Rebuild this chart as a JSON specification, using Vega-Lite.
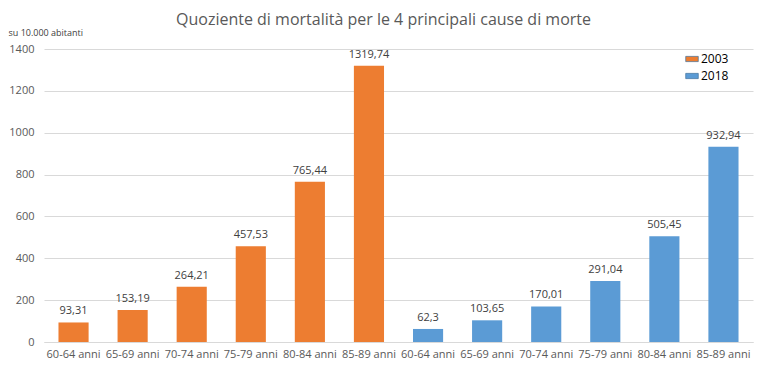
{
  "$schema": "https://vega.github.io/schema/vega-lite/v6.json",
  "width": 769,
  "height": 373,
  "autosize": {"type": "fit", "contains": "padding"},
  "padding": {"left": 8, "top": 12, "right": 16, "bottom": 14},
  "background": "white",
  "config": {
    "view": {"stroke": null},
    "font": "Open Sans",
    "locale": {"number": {"decimal": ",", "thousands": "", "grouping": [3], "currency": ["€", ""]}}
  },
  "title": {
    "text": "Quoziente di mortalità per le 4 principali cause di morte",
    "fontSize": 16,
    "fontWeight": "normal",
    "color": "#595959",
    "anchor": "middle",
    "dx": -15,
    "offset": 0
  },
  "data": {
    "values": [
      {"key": "2003|60-64 anni", "anno": "2003", "valore": 93.31},
      {"key": "2003|65-69 anni", "anno": "2003", "valore": 153.19},
      {"key": "2003|70-74 anni", "anno": "2003", "valore": 264.21},
      {"key": "2003|75-79 anni", "anno": "2003", "valore": 457.53},
      {"key": "2003|80-84 anni", "anno": "2003", "valore": 765.44},
      {"key": "2003|85-89 anni", "anno": "2003", "valore": 1319.74},
      {"key": "2018|60-64 anni", "anno": "2018", "valore": 62.3},
      {"key": "2018|65-69 anni", "anno": "2018", "valore": 103.65},
      {"key": "2018|70-74 anni", "anno": "2018", "valore": 170.01},
      {"key": "2018|75-79 anni", "anno": "2018", "valore": 291.04},
      {"key": "2018|80-84 anni", "anno": "2018", "valore": 505.45},
      {"key": "2018|85-89 anni", "anno": "2018", "valore": 932.94}
    ]
  },
  "encoding": {
    "x": {
      "field": "key",
      "type": "nominal",
      "sort": null,
      "scale": {"paddingInner": 0.49, "paddingOuter": 0.245},
      "axis": {
        "title": null,
        "labelAngle": 0,
        "labelExpr": "split(datum.value, '|')[1]",
        "labelFontSize": 11,
        "labelColor": "#595959",
        "ticks": false,
        "domainColor": "#d9d9d9",
        "labelPadding": 6
      }
    },
    "y": {
      "field": "valore",
      "type": "quantitative",
      "scale": {"domain": [0, 1400]},
      "axis": {
        "values": [0, 200, 400, 600, 800, 1000, 1200, 1400],
        "format": "d",
        "title": "su 10.000 abitanti",
        "titleAngle": 0,
        "titleAlign": "left",
        "titleBaseline": "bottom",
        "titleFontSize": 9,
        "titleFontWeight": "normal",
        "titleColor": "#404040",
        "titleX": -36,
        "titleY": -12,
        "labelFontSize": 11,
        "labelColor": "#595959",
        "ticks": false,
        "domain": false,
        "gridColor": "#d9d9d9",
        "labelPadding": 10
      }
    }
  },
  "layer": [
    {
      "mark": {"type": "bar"},
      "encoding": {
        "color": {
          "field": "anno",
          "type": "nominal",
          "scale": {"domain": ["2003", "2018"], "range": ["#ED7D31", "#5B9BD5"]},
          "legend": {
            "title": null,
            "orient": "none",
            "legendX": 642,
            "legendY": 4,
            "symbolType": "M-1.2,-0.5H1.2V0.5H-1.2Z",
            "symbolSize": 110,
            "symbolStrokeColor": "#41719C",
            "symbolStrokeWidth": 0.7,
            "labelFontSize": 12,
            "labelColor": "#000000",
            "labelOffset": 3,
            "rowPadding": 5,
            "symbolOffset": 0
          }
        }
      }
    },
    {
      "mark": {"type": "text", "dy": -11, "fontSize": 11, "color": "#404040"},
      "encoding": {
        "text": {"field": "valore", "type": "quantitative", "format": ".2~f"}
      }
    }
  ]
}
